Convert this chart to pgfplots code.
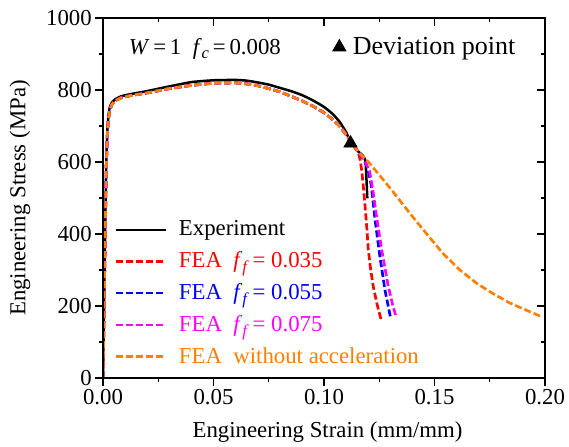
\documentclass[border=0pt]{standalone}
\usepackage{pgfplots}
\pgfplotsset{compat=1.18}
\usepackage{fontspec}
\setmainfont{Liberation Serif}

\definecolor{feared}{RGB}{255,0,0}
\definecolor{feablue}{RGB}{0,0,255}
\definecolor{feamag}{RGB}{255,0,255}
\definecolor{feaorange}{RGB}{255,128,0}

\newcommand{\ff}{\textit{f}\raisebox{-0.45ex}{\fontsize{8.3}{8.3}\selectfont\textit{f}}}
\newcommand{\mainfs}{\fontsize{11.4}{13.4}\selectfont}

\pgfplotsset{
  common/.style={
    scale only axis, width=221pt, height=180pt,
    xmin=0, xmax=0.2, ymin=0, ymax=1000,
    xtick={0,0.05,0.1,0.15,0.2}, minor x tick num=1,
    ytick={0,200,400,600,800,1000}, minor y tick num=1,
    major tick length=4pt, minor tick length=2pt,
    axis line style={line width=0.7pt},
    every tick/.style={black, line width=0.6pt},
    font=\mainfs,
  },
  fea/.style={line width=1.35pt, dash pattern=on 3.5pt off 1.5pt},
}

% shared pre-failure part of the simulated curves
\pgfplotstableread{
x y
0 0
0.0005 190
0.001 400
0.0015 590
0.002 680
0.0025 720
0.003 742
0.004 760
0.0055 770
0.008 778
0.012 784
0.02 792
0.03 804
0.04 813
0.05 819
0.06 820
0.065 817
0.07 812
0.075 804
0.08 795
0.085 783
0.09 770
0.095 755
0.10 737
0.104 718
0.107 700
0.110 676
0.113 650
0.1155 627
}\feabase

\begin{document}
\begin{tikzpicture}
\begin{axis}[common,
  tick align=outside, xtick pos=bottom, ytick pos=left,
  /pgf/number format/assume math mode=true,
  tick label style={font=\mainfs, inner sep=0.4pt},
  xticklabel style={yshift=-1.2pt, /pgf/number format/.cd, fixed, fixed zerofill, precision=2},
  yticklabel style={xshift=-1pt, /pgf/number format/1000 sep={}},
  xlabel={Engineering Strain (mm/mm)},
  ylabel={Engineering Stress (MPa)},
  xlabel style={at={(axis description cs:0.508,-0.15)}, anchor=center},
  ylabel style={at={(axis description cs:-0.188,0.5)}, anchor=center},
  legend style={draw=none, fill=none, at={(rel axis cs:0.0245,0.449)}, anchor=north west,
    cells={anchor=west}, row sep=2.4pt, inner sep=0pt, font=\mainfs},
  legend image code/.code={\draw[#1] (0pt,0pt) -- (25pt,0pt); \path (29pt,0pt);},
]
\coordinate (sw) at (rel axis cs:0,0);
\coordinate (ne) at (rel axis cs:1,1);

% measured curve
\addplot[black, line width=1.25pt, smooth, tension=0.3] table {
0 0
0.0005 200
0.001 420
0.0015 600
0.002 690
0.0025 730
0.003 750
0.004 765
0.0055 774
0.008 782
0.012 788
0.02 797
0.03 810
0.04 822
0.05 827
0.06 828
0.065 826
0.07 821
0.075 815
0.08 806
0.085 797
0.09 786
0.095 771
0.10 753
0.104 733
0.107 712
0.110 683
0.112 655
0.115 632
0.1175 618
0.1188 600
0.1196 499
};
\addlegendentry{Experiment}

% simulations: f_f = 0.035
\addplot[feared, fea] table {
0 0
0.0005 190
0.001 400
0.0015 590
0.002 680
0.0025 720
0.003 742
0.004 760
0.0055 770
0.008 778
0.012 784
0.02 792
0.03 804
0.04 813
0.05 819
0.06 820
0.065 817
0.07 812
0.075 804
0.08 795
0.085 783
0.09 770
0.095 755
0.10 737
0.104 718
0.107 700
0.110 676
0.113 650
0.1155 627
0.1164 605
0.1172 570
0.1179 525
0.1186 476
0.1194 415
0.1200 360
0.1211 302
0.1223 254
0.1240 205
0.1261 156
};
\addlegendentry{\textcolor{feared}{FEA\ \ \ff\,= 0.035}}

% f_f = 0.055
\addplot[feablue, fea] table {
0 0
0.0005 190
0.001 400
0.0015 590
0.002 680
0.0025 720
0.003 742
0.004 760
0.0055 770
0.008 778
0.012 784
0.02 792
0.03 804
0.04 813
0.05 819
0.06 820
0.065 817
0.07 812
0.075 804
0.08 795
0.085 783
0.09 770
0.095 755
0.10 737
0.104 718
0.107 700
0.110 676
0.113 650
0.1155 627
0.1178 610
0.1198 583
0.1214 535
0.1231 440
0.1253 337
0.1276 244
0.1302 165
};
\addlegendentry{\textcolor{feablue}{FEA\ \ \ff\,= 0.055}}

% f_f = 0.075
\addplot[feamag, fea] table {
0 0
0.0005 190
0.001 400
0.0015 590
0.002 680
0.0025 720
0.003 742
0.004 760
0.0055 770
0.008 778
0.012 784
0.02 792
0.03 804
0.04 813
0.05 819
0.06 820
0.065 817
0.07 812
0.075 804
0.08 795
0.085 783
0.09 770
0.095 755
0.10 737
0.104 718
0.107 700
0.110 676
0.113 650
0.1155 627
0.1180 610
0.1206 575
0.1222 518
0.1238 448
0.1261 356
0.1291 254
0.1310 205
0.1326 170
};
\addlegendentry{\textcolor{feamag}{FEA\ \ \ff\,= 0.075}}

% no acceleration
\addplot[feaorange, fea] table {
0 0
0.0005 190
0.001 400
0.0015 590
0.002 680
0.0025 720
0.003 742
0.004 760
0.0055 770
0.008 778
0.012 784
0.02 792
0.03 804
0.04 813
0.05 819
0.06 820
0.065 817
0.07 812
0.075 804
0.08 795
0.085 783
0.09 770
0.095 755
0.10 737
0.104 718
0.107 700
0.110 676
0.113 650
0.1155 627
0.1175 616
0.1193 606
0.1253 562
0.1314 516
0.1389 457
0.1465 400
0.1540 345
0.1615 300
0.1691 263
0.1766 234
0.1842 208
0.1917 188
0.1985 170
};
\addlegendentry{\textcolor{feaorange}{FEA\ \ without acceleration}}

\node[anchor=base west, inner sep=0pt] at (axis cs:0.0115,900)
  {\textit{W}\,=\,1\ \ \textit{f}\raisebox{-0.45ex}{\fontsize{8.3}{8.3}\selectfont\textit{c}}\,=\,0.008};
\end{axis}

% top and right frame ticks, plus the deviation marker
\begin{axis}[common,
  tick align=inside, xtick pos=top, ytick pos=right,
  xticklabels={}, yticklabels={},
  legend style={draw=none, fill=none, at={(rel axis cs:0.519,0.919)}, anchor=west,
    cells={anchor=west}, inner sep=0pt, font=\fontsize{13}{15}\selectfont},
  legend image code/.code={\draw[#1] plot coordinates {(0pt,0pt)}; \path (4.5pt,0pt);},
]
\addplot[only marks, mark=triangle*, mark size=3.8pt, black] coordinates {(0.112,652)};
\addlegendentry{Deviation point}
\end{axis}

\pgfresetboundingbox
\path ([shift={(-51.5pt,-34pt)}]sw) rectangle ([shift={(12pt,9pt)}]ne);
\end{tikzpicture}
\end{document}
